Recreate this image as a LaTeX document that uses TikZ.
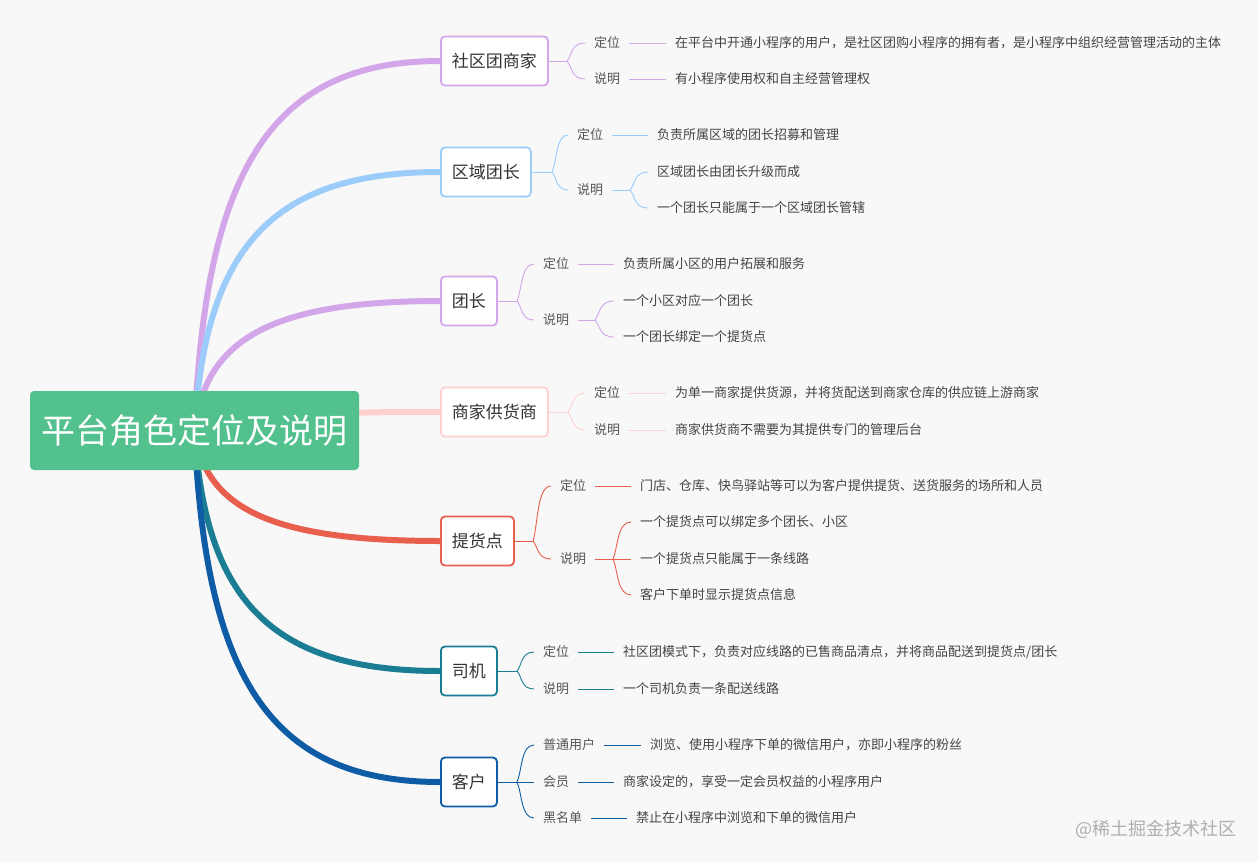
\documentclass[tikz,border=0pt]{standalone}
\usepackage{fontspec}
\usetikzlibrary{calc}
\setmainfont{Noto Sans CJK SC}
\definecolor{bgc}{RGB}{248,248,248}
\definecolor{rootc}{RGB}{82,193,141}
\definecolor{cA}{RGB}{211,166,234}
\definecolor{cB}{RGB}{155,204,250}
\definecolor{cD}{RGB}{255,208,208}
\definecolor{cE}{RGB}{232,95,78}
\definecolor{cF}{RGB}{27,125,148}
\definecolor{cG}{RGB}{14,92,166}
\definecolor{txt}{RGB}{51,51,51}
\definecolor{labtxt}{RGB}{85,85,85}
\definecolor{leaftxt}{RGB}{68,68,68}
\definecolor{wm}{RGB}{175,175,175}
\pgfdeclarelayer{bglayer}
\pgfsetlayers{bglayer,main}
\newcommand\bracetwig[3]{\draw[twig,#1] let \p1=(#2), \p2=(#3) in (\p1) .. controls ({\x1+5pt},{\y1+0.3*(\y2-\y1)}) and ({\x1+4pt},\y2) .. (\p2);}
\begin{document}
\begin{tikzpicture}[x=1pt,y=-1pt,
  trunk/.style={line width=6pt,line cap=round},
  mainnode/.style={draw,line width=1.8pt,rounded corners=4pt,fill=white,minimum height=49pt,inner xsep=11pt,anchor=west,font=\fontsize{17}{20}\selectfont,text=txt},
  lab/.style={anchor=west,inner xsep=9pt,inner ysep=0pt,font=\fontsize{13}{15}\selectfont,text=labtxt,text height=10.5pt,text depth=1.5pt},
  leaf/.style={lab,text=leaftxt},
  twig/.style={line width=0.9pt}
]
\begin{pgfonlayer}{bglayer}
\fill[bgc] (0,0) rectangle (1259,862);
\end{pgfonlayer}
\useasboundingbox (0,0) rectangle (1259,862);

% root
\node[fill=rootc,rounded corners=4pt,minimum width=329pt,minimum height=79pt,text=white,font=\fontsize{34}{40}\selectfont,inner sep=0pt] (root) at (194.5,430.5) {平台角色定位及说明};

% main nodes
\node[mainnode,draw=cA] (n1) at (440,61) {社区团商家};
\node[mainnode,draw=cB] (n2) at (440,172) {区域团长};
\node[mainnode,draw=cA] (n3) at (440,301) {团长};
\node[mainnode,draw=cD] (n4) at (440,412) {商家供货商};
\node[mainnode,draw=cE] (n5) at (440,541) {提货点};
\node[mainnode,draw=cF] (n6) at (440,671) {司机};
\node[mainnode,draw=cG] (n7) at (440,782) {客户};

\begin{pgfonlayer}{bglayer}
\draw[trunk,cA] (root.center) .. controls (205,172) and (270,61) .. (n1.west);
\draw[trunk,cB] (root.center) .. controls (205,250) and (270,172) .. (n2.west);
\draw[trunk,cA] (root.center) .. controls (205,340) and (270,301) .. (n3.west);
\draw[trunk,cD] (root.center) .. controls (300,412) and (350,412) .. (n4.west);
\draw[trunk,cE] (root.center) .. controls (205,508) and (270,541) .. (n5.west);
\draw[trunk,cF] (root.center) .. controls (205,599) and (270,671) .. (n6.west);
\draw[trunk,cG] (root.center) .. controls (205,677) and (270,782) .. (n7.west);
\end{pgfonlayer}

% branch 1
\coordinate (f1) at (567,61);
\node[lab] (n1a) at (585,43) {定位};
\node[lab] (n1b) at (585,79) {说明};
\node[leaf] (n1aa) at (666,43) {在平台中开通小程序的用户，是社区团购小程序的拥有者，是小程序中组织经营管理活动的主体};
\node[leaf] (n1ba) at (666,79) {有小程序使用权和自主经营管理权};
\draw[twig,cA] (n1.east) -- (f1);
\bracetwig{cA}{f1}{n1a.west}
\bracetwig{cA}{f1}{n1b.west}
\draw[twig,cA] (n1a.east) -- (n1aa.west);
\draw[twig,cA] (n1b.east) -- (n1ba.west);

% branch 2
\coordinate (f2) at (552,172);
\node[lab] (n2a) at (568,135) {定位};
\node[lab] (n2b) at (568,190) {说明};
\node[leaf] (n2aa) at (648,135) {负责所属区域的团长招募和管理};
\coordinate (f2b) at (630,190);
\node[leaf] (n2ba) at (648,172) {区域团长由团长升级而成};
\node[leaf] (n2bb) at (648,208) {一个团长只能属于一个区域团长管辖};
\draw[twig,cB] (n2.east) -- (f2);
\bracetwig{cB}{f2}{n2a.west}
\bracetwig{cB}{f2}{n2b.west}
\draw[twig,cB] (n2a.east) -- (n2aa.west);
\draw[twig,cB] (n2b.east) -- (f2b);
\bracetwig{cB}{f2b}{n2ba.west}
\bracetwig{cB}{f2b}{n2bb.west}

% branch 3
\coordinate (f3) at (517,301);
\node[lab] (n3a) at (534,264) {定位};
\node[lab] (n3b) at (534,320) {说明};
\node[leaf] (n3aa) at (614,264) {负责所属小区的用户拓展和服务};
\coordinate (f3b) at (595,320);
\node[leaf] (n3ba) at (614,301) {一个小区对应一个团长};
\node[leaf] (n3bb) at (614,337) {一个团长绑定一个提货点};
\draw[twig,cA] (n3.east) -- (f3);
\bracetwig{cA}{f3}{n3a.west}
\bracetwig{cA}{f3}{n3b.west}
\draw[twig,cA] (n3a.east) -- (n3aa.west);
\draw[twig,cA] (n3b.east) -- (f3b);
\bracetwig{cA}{f3b}{n3ba.west}
\bracetwig{cA}{f3b}{n3bb.west}

% branch 4
\coordinate (f4) at (568,412);
\node[lab] (n4a) at (585,393) {定位};
\node[lab] (n4b) at (585,430) {说明};
\node[leaf] (n4aa) at (666,393) {为单一商家提供货源，并将货配送到商家仓库的供应链上游商家};
\node[leaf] (n4ba) at (666,430) {商家供货商不需要为其提供专门的管理后台};
\draw[twig,cD] (n4.east) -- (f4);
\bracetwig{cD}{f4}{n4a.west}
\bracetwig{cD}{f4}{n4b.west}
\draw[twig,cD] (n4a.east) -- (n4aa.west);
\draw[twig,cD] (n4b.east) -- (n4ba.west);

% branch 5
\coordinate (f5) at (533,541);
\node[lab] (n5a) at (551,486) {定位};
\node[lab] (n5b) at (551,559) {说明};
\node[leaf] (n5aa) at (631,486) {门店、仓库、快鸟驿站等可以为客户提供提货、送货服务的场所和人员};
\coordinate (f5b) at (613,559);
\node[leaf] (n5ba) at (631,522) {一个提货点可以绑定多个团长、小区};
\node[leaf] (n5bb) at (631,559) {一个提货点只能属于一条线路};
\node[leaf] (n5bc) at (631,595) {客户下单时显示提货点信息};
\draw[twig,cE] (n5.east) -- (f5);
\bracetwig{cE}{f5}{n5a.west}
\bracetwig{cE}{f5}{n5b.west}
\draw[twig,cE] (n5a.east) -- (n5aa.west);
\draw[twig,cE] (n5b.east) -- (f5b);
\bracetwig{cE}{f5b}{n5ba.west}
\draw[twig,cE] (f5b) -- (n5bb.west);
\bracetwig{cE}{f5b}{n5bc.west}

% branch 6
\coordinate (f6) at (517,671);
\node[lab] (n6a) at (534,652) {定位};
\node[lab] (n6b) at (534,689) {说明};
\node[leaf] (n6aa) at (614,652) {社区团模式下，负责对应线路的已售商品清点，并将商品配送到提货点/团长};
\node[leaf] (n6ba) at (614,689) {一个司机负责一条配送线路};
\draw[twig,cF] (n6.east) -- (f6);
\bracetwig{cF}{f6}{n6a.west}
\bracetwig{cF}{f6}{n6b.west}
\draw[twig,cF] (n6a.east) -- (n6aa.west);
\draw[twig,cF] (n6b.east) -- (n6ba.west);

% branch 7
\coordinate (f7) at (517,782);
\node[lab] (n7a) at (534,745) {普通用户};
\node[lab] (n7b) at (534,782) {会员};
\node[lab] (n7c) at (534,818) {黑名单};
\node[leaf] (n7aa) at (641,745) {浏览、使用小程序下单的微信用户，亦即小程序的粉丝};
\node[leaf] (n7ba) at (614,782) {商家设定的，享受一定会员权益的小程序用户};
\node[leaf] (n7ca) at (627,818) {禁止在小程序中浏览和下单的微信用户};
\draw[twig,cG] (n7.east) -- (f7);
\bracetwig{cG}{f7}{n7a.west}
\draw[twig,cG] (f7) -- (n7b.west);
\bracetwig{cG}{f7}{n7c.west}
\draw[twig,cG] (n7a.east) -- (n7aa.west);
\draw[twig,cG] (n7b.east) -- (n7ba.west);
\draw[twig,cG] (n7c.east) -- (n7ca.west);

% watermark
\node[anchor=west,inner sep=0pt,text=wm,font=\fontsize{18}{21}\selectfont] (wmk) at (1075,829) {@稀土掘金技术社区};
\end{tikzpicture}
\end{document}
